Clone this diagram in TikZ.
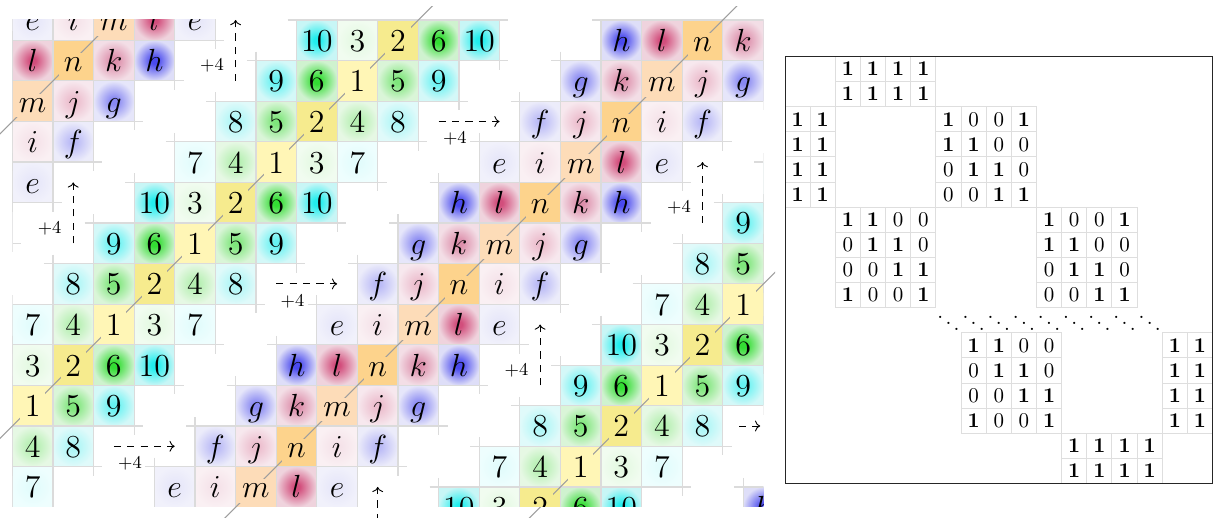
\documentclass[tikz,border=0pt]{standalone}
\usepackage{fix-cm}
\usetikzlibrary{arrows.meta}
\definecolor{o1}{HTML}{FFF6B6}\definecolor{i1}{HTML}{FFF6B6}
\definecolor{o2}{HTML}{F6EB8E}\definecolor{i2}{HTML}{F6EB8E}
\definecolor{o3}{HTML}{F1FCF0}\definecolor{i3}{HTML}{E4F9E2}
\definecolor{o4}{HTML}{E6F8E4}\definecolor{i4}{HTML}{B4EFB0}
\definecolor{o5}{HTML}{DAF5D8}\definecolor{i5}{HTML}{7FE67C}
\definecolor{o6}{HTML}{CFF2CF}\definecolor{i6}{HTML}{33DD33}
\definecolor{o7}{HTML}{EEFEFE}\definecolor{i7}{HTML}{E2FCFC}
\definecolor{o8}{HTML}{E0FAFA}\definecolor{i8}{HTML}{ADF6F6}
\definecolor{o9}{HTML}{D4F8F8}\definecolor{i9}{HTML}{66F2F2}
\definecolor{o10}{HTML}{C8F6F6}\definecolor{i10}{HTML}{22EEEE}
\definecolor{oe}{HTML}{F1F1FB}\definecolor{ie}{HTML}{E6E6F9}
\definecolor{of}{HTML}{ECECFA}\definecolor{if}{HTML}{BBBBF6}
\definecolor{og}{HTML}{E6E6FA}\definecolor{ig}{HTML}{8888F2}
\definecolor{oh}{HTML}{DEDEF8}\definecolor{ih}{HTML}{4A4AEE}
\definecolor{oi}{HTML}{FAF0F3}\definecolor{ii}{HTML}{F5E2E9}
\definecolor{oj}{HTML}{F7E8EE}\definecolor{ij}{HTML}{ECBDCD}
\definecolor{ok}{HTML}{F3DEE6}\definecolor{ik}{HTML}{DD8FAB}
\definecolor{ol}{HTML}{EFD3DD}\definecolor{il}{HTML}{D24E7C}
\definecolor{om}{HTML}{FDDCB8}\definecolor{im}{HTML}{FDDCB8}
\definecolor{on}{HTML}{FDD38C}\definecolor{in}{HTML}{FDD38C}
\colorlet{cin}{white}\colorlet{cout}{white}
\pgfdeclareradialshading[cin,cout]{glow}{\pgfpoint{0bp}{0bp}}{color(0bp)=(cin);color(4bp)=(cin);color(25bp)=(cout);color(50bp)=(cout)}
\tikzset{
  cellgrid/.style={draw=black!14, line width=0.6pt},
  diag/.style={draw=black!38, line width=0.5pt},
  celltext/.style={font=\fontsize{16}{19}\selectfont, inner sep=2.4pt, anchor=base},
  arr/.style={draw=black, dash pattern=on 3.6pt off 3.1pt, line width=0.45pt, ->},
  pl/.style={font=\fontsize{9}{11}\selectfont, inner sep=0pt},
  mgrid/.style={draw=black!13, line width=0.5pt},
  mtext/.style={font=\fontsize{10.5}{12}\selectfont, inner sep=0pt},
  frame/.style={draw=black!85, line width=0.5pt}
}
\newcommand\numrow[1]{\ifcase#1 10,3,2,6,10\or 9,6,1,5,9\or 8,5,2,4,8\or 7,4,1,3,7\fi}
\newcommand\letrow[1]{\ifcase#1 e,i,m,l,e\or h,l,n,k,h\or g,k,m,j,g\or f,j,n,i,f\fi}
% #1 phase, #2 type, #3 x0, #4 y0, #5 kmin, #6 kmax, #7 name
\newcommand\drawstrip[7]{%
  \foreach \kr in {#5,...,#6}{%
    \pgfmathtruncatemacro\rw{mod(\kr+400,4)}%
    \pgfmathtruncatemacro\kk{\kr+20}%
    \if N#2\edef\rowlist{\numrow{\rw}}\else\edef\rowlist{\letrow{\rw}}\fi
    \foreach \lab [count=\ii from 0] in \rowlist {%
      \pgfmathsetmacro\cx{#3-(\kr)+\ii}%
      \pgfmathsetmacro\cy{#4+(\kr)}%
      \edef\fc{o\lab}%
      \ifcase#1
        \colorlet{cin}{i\lab}\colorlet{cout}{o\lab}%
        \path[shading=glow] (\cx,\cy) rectangle ++(1,1);%
      \or
        \draw[cellgrid] (\cx-0.22,\cy) -- ++(1.44,0) (\cx-0.22,\cy+1) -- ++(1.44,0) (\cx,\cy-0.22) -- ++(0,1.44) (\cx+1,\cy-0.22) -- ++(0,1.44);%
      \or
        \ifnum\ii=2
          \node[celltext,fill=\fc] (#7-\kk-\ii) at (\cx+0.5,\cy+0.77) {$\lab$};%
        \else
          \node[celltext] (#7-\kk-\ii) at (\cx+0.5,\cy+0.77) {$\lab$};%
        \fi
      \fi
    }}}
\newcommand\allstrips[1]{%
  \drawstrip#1N{7}{0}{0}{11}{NA}%
  \drawstrip#1L{0}{-0.5}{0}{12}{LA}%
  \drawstrip#1L{11.5}{3}{-3}{8}{LB}%
  \drawstrip#1N{18.5}{3.5}{0}{8}{NB}%
  \drawstrip#1L{23}{6.5}{5}{5}{LC}}
\newcommand\mcell[3]{\draw[mgrid] (#1,#2) rectangle ++(1,1); \node[mtext] (m-#2-#1) at (#1+0.5,#2+0.5) {$#3$};}
\newcommand\bv[1]{\ifnum#1=1 \mathbf{1}\else 0\fi}
\newcommand\matA{{1,0,0,1},{1,1,0,0},{0,1,1,0},{0,0,1,1}}
\newcommand\matB{{1,1,0,0},{0,1,1,0},{0,0,1,1},{1,0,0,1}}
\newcommand\putmat[3]{\foreach \row [count=\rr from 0] in #1 {\foreach \v [count=\cc from 0] in \row {\pgfmathtruncatemacro\mx{#2+\cc}\pgfmathtruncatemacro\my{#3+\rr}\mcell{\mx}{\my}{\bv{\v}}}}}
\begin{document}
\begin{tikzpicture}[x=0.5pt,y=-0.5pt]
\useasboundingbox (0,0) rectangle (1215,518);
\begin{scope}[xshift=6.15pt,yshift=-10pt,x=20.3pt,y=-20.3pt]
  % short arrow partly hidden by cells
  \coordinate (h4a) at (17.9,10); \coordinate (h4b) at (18.42,10);
  \draw[arr] (h4a) -- (h4b);
  \begin{scope}
    \clip (0,0) rectangle (18.5,11.98);
    \allstrips0
    \allstrips1
  \end{scope}
  \begin{scope}
    \clip (-0.303,-0.34) rectangle (18.79,12.27);
    \draw[diag] (2.5,0) -- (-1,3.5);
    \draw[diag] (10.5,-0.5) -- (-1,11);
    \draw[diag] (18,-0.5) -- (5,12.5);
    \draw[diag] (19,6) -- (12,13);
  \end{scope}
  \begin{scope}
    \clip (0,0) rectangle (18.5,11.98);
    \allstrips2
  \end{scope}
  \begin{scope}
    \clip (-0.303,-0.34) rectangle (18.79,12.27);
    \coordinate (h1a) at (10.5,2.5); \coordinate (h1b) at (12,2.5);
    \coordinate (h2a) at (6.5,6.5);  \coordinate (h2b) at (8,6.5);
    \coordinate (h3a) at (2.5,10.5); \coordinate (h3b) at (4,10.5);
    \draw[arr] (h1a) -- (h1b);
    \draw[arr] (h2a) -- (h2b);
    \draw[arr] (h3a) -- (h3b);
    \node[pl] (h1l) at (10.9,2.93) {$+4$};
    \node[pl] (h2l) at (6.9,6.93) {$+4$};
    \node[pl] (h3l) at (2.9,10.93) {$+4$};
    \coordinate (v1a) at (5.5,1.5); \coordinate (v1b) at (5.5,0);
    \coordinate (v2a) at (1.5,5.5); \coordinate (v2b) at (1.5,4);
    \coordinate (v3a) at (17,5);    \coordinate (v3b) at (17,3.5);
    \coordinate (v4a) at (13,9);    \coordinate (v4b) at (13,7.5);
    \coordinate (v5a) at (9,13);    \coordinate (v5b) at (9,11.5);
    \draw[arr] (v1a) -- (v1b);
    \draw[arr] (v2a) -- (v2b);
    \draw[arr] (v3a) -- (v3b);
    \draw[arr] (v4a) -- (v4b);
    \draw[arr] (v5a) -- (v5b);
    \node[pl] (v1l) at (4.92,1.13) {$+4$};
    \node[pl] (v2l) at (0.92,5.13) {$+4$};
    \node[pl] (v3l) at (16.42,4.63) {$+4$};
    \node[pl] (v4l) at (12.42,8.63) {$+4$};
  \end{scope}
\end{scope}
\begin{scope}[xshift=392.5pt,yshift=-28.25pt,x=12.575pt,y=-12.56pt]
  \foreach \rr in {0,1}{\foreach \cc in {2,...,5}{\mcell{\cc}{\rr}{\mathbf{1}}}}
  \foreach \rr in {2,...,5}{\foreach \cc in {0,1}{\mcell{\cc}{\rr}{\mathbf{1}}}}
  \putmat{\matA}{6}{2}
  \putmat{\matB}{2}{6}
  \putmat{\matA}{10}{6}
  \foreach \cc in {6,...,14}{\node[mtext] (dd-\cc) at (\cc+0.5,10.4) {$\ddots$};}
  \putmat{\matB}{7}{11}
  \foreach \rr in {11,...,14}{\foreach \cc in {15,16}{\mcell{\cc}{\rr}{\mathbf{1}}}}
  \foreach \rr in {15,16}{\foreach \cc in {11,...,14}{\mcell{\cc}{\rr}{\mathbf{1}}}}
  \draw[frame] (0,0) rectangle (17,17);
\end{scope}
\end{tikzpicture}
\end{document}
